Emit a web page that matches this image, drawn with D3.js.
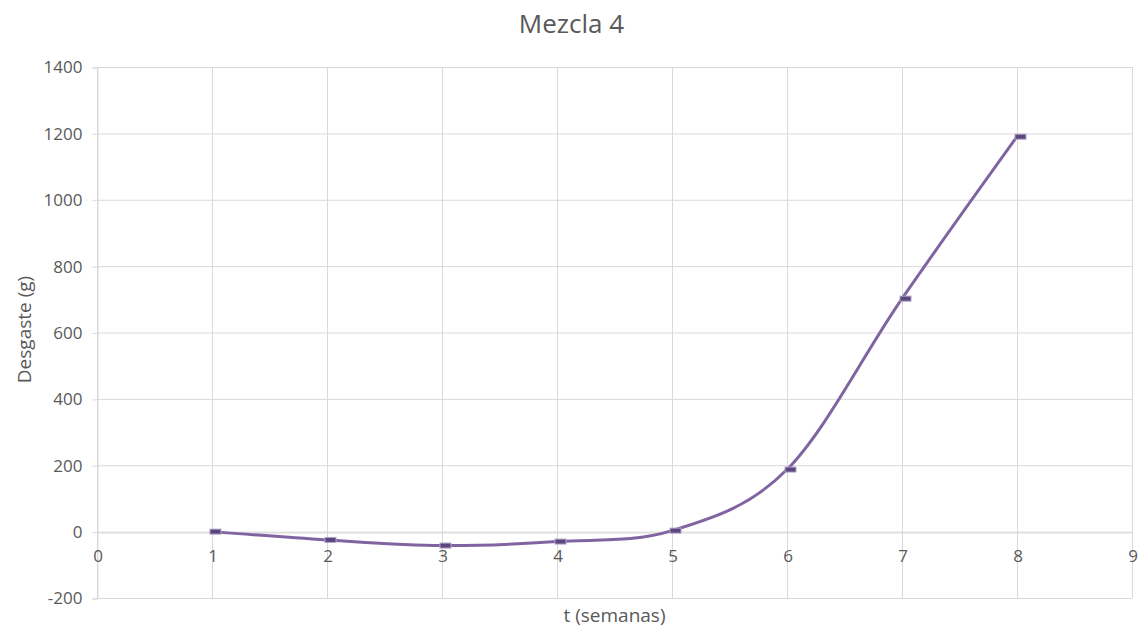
<!DOCTYPE html>
<html>
<head>
<meta charset="utf-8">
<script src="https://cdn.jsdelivr.net/npm/d3@7"></script>
<style>
  html, body { margin: 0; padding: 0; background: #fff; }
  svg { display: block; font-family: "Open Sans", "Noto Sans", sans-serif; }
</style>
</head>
<body>
<svg id="chart" width="1145" height="632"></svg>
<script>
// Weekly wear measurements for mix 4
const weeks = [1, 2, 3, 4, 5, 6, 7, 8];
const wear = [0, -25, -42, -30, 3, 187, 702, 1190];
const xTicks = [0, 1, 2, 3, 4, 5, 6, 7, 8, 9];
const yTicks = [-200, 0, 200, 400, 600, 800, 1000, 1200, 1400];

const title = "Mezcla 4";
const xTitle = "t (semanas)";
const yTitle = "Desgaste (g)";

const svg = d3.select("#chart");
const W = 1145, H = 632;
const m = { left: 97, right: 1132, top: 67, bottom: 598 };

const x = d3.scaleLinear().domain([0, 9]).range([m.left, m.right]);
const y = d3.scaleLinear().domain([-200, 1400]).range([m.bottom, m.top]);

const gridColor = "#d9d9d9";
const textColor = "#595959";
const tickFont = "17px";
// plain hyphen-minus for negative tick labels
const fmt = d => String(d);

// gridlines
svg.append("g").selectAll("line").data(yTicks).join("line")
  .attr("x1", m.left).attr("x2", m.right)
  .attr("y1", d => y(d) + 0.5).attr("y2", d => y(d) + 0.5)
  .attr("stroke", gridColor).attr("stroke-width", 1);
svg.append("g").selectAll("line").data(xTicks).join("line")
  .attr("x1", d => Math.round(x(d)) + 0.5).attr("x2", d => Math.round(x(d)) + 0.5)
  .attr("y1", m.top).attr("y2", m.bottom)
  .attr("stroke", gridColor).attr("stroke-width", 1);

// y axis with ticks on the left
const yAxis = svg.append("g")
  .attr("transform", `translate(${m.left + 0.5},0.5)`)
  .call(d3.axisLeft(y).tickValues(yTicks).tickSize(5).tickPadding(10).tickFormat(fmt));
yAxis.select(".domain").attr("stroke", gridColor);
yAxis.selectAll(".tick line").attr("stroke", gridColor);
yAxis.selectAll("text").attr("fill", textColor).style("font-size", tickFont)
  .style("font-family", "'Open Sans', 'Noto Sans', sans-serif");

// x axis crossing at zero
const xAxis = svg.append("g")
  .attr("transform", `translate(0.5,${Math.round(y(0)) + 0.5})`)
  .call(d3.axisBottom(x).tickValues(xTicks).tickSize(0).tickPadding(17).tickFormat(fmt));
xAxis.select(".domain").attr("stroke", gridColor);
xAxis.selectAll("text").attr("fill", textColor).style("font-size", tickFont)
  .style("font-family", "'Open Sans', 'Noto Sans', sans-serif");

// smoothed series line
const pts = weeks.map((w, i) => [w, wear[i]]);
const line = d3.line().x(d => x(d[0])).y(d => y(d[1])).curve(d3.curveCardinal.tension(0));
svg.append("path").datum(pts)
  .attr("d", line)
  .attr("fill", "none")
  .attr("stroke", "#8064a2")
  .attr("stroke-width", 3)
  .attr("stroke-linecap", "round");

// dash markers
svg.append("g").selectAll("rect").data(pts).join("rect")
  .attr("x", d => x(d[0]) - 2)
  .attr("y", d => y(d[1]) - 2.5)
  .attr("width", 11).attr("height", 5)
  .attr("fill", "#5c4680")
  .attr("stroke", "#b3a2c7")
  .attr("stroke-width", 1);

// titles
svg.append("text").attr("x", W / 2 - 1).attr("y", 33)
  .attr("text-anchor", "middle").attr("fill", textColor)
  .style("font-size", "26px").text(title);
svg.append("text").attr("x", (m.left + m.right) / 2).attr("y", 622)
  .attr("text-anchor", "middle").attr("fill", textColor)
  .style("font-size", "19px").text(xTitle);
svg.append("text")
  .attr("transform", `translate(31,${(m.top + m.bottom) / 2 - 3}) rotate(-90)`)
  .attr("text-anchor", "middle").attr("fill", textColor)
  .style("font-size", "19px").text(yTitle);
</script>
</body>
</html>
